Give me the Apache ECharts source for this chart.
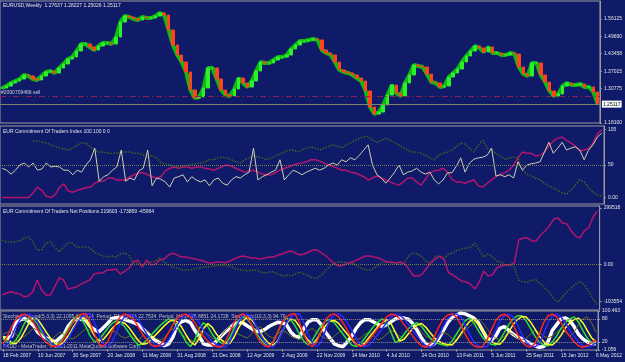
<!DOCTYPE html>
<html>
<head>
<meta charset="utf-8">
<title>EURUSD Weekly</title>
<script src="https://cdn.jsdelivr.net/npm/echarts@6.0.0/dist/echarts.min.js"></script>
<style>
  html, body { margin: 0; padding: 0; background: #0f1b69; }
  #chart { width: 625px; height: 362px; }
</style>
</head>
<body>
<div id="chart"></div>
<script>
// time axis labels, one every 8 bi-weekly bars
const dateLabels = ['18 Feb 2007', '10 Jun 2007', '30 Sep 2007', '20 Jan 2008', '11 May 2008', '31 Aug 2008',
  '21 Dec 2008', '12 Apr 2009', '2 Aug 2009', '22 Nov 2009', '14 Mar 2010', '4 Jul 2010',
  '24 Oct 2010', '13 Feb 2011', '5 Jun 2011', '25 Sep 2011', '15 Jan 2012', '6 May 2012']

// EURUSD closes (bi-weekly)
const closes = [1.3090, 1.3163, 1.3273, 1.3346, 1.3419, 1.3565, 1.3529, 1.3419, 1.3382, 1.3529,
  1.3675, 1.3711, 1.3638, 1.3821, 1.3967, 1.4150, 1.4223, 1.4443, 1.4699, 1.4699,
  1.4589, 1.4479, 1.4625, 1.4735, 1.4735, 1.4699, 1.4954, 1.5503, 1.5722, 1.5686,
  1.5613, 1.5576, 1.5686, 1.5649, 1.5649, 1.5722, 1.5832, 1.5759, 1.5210, 1.4662,
  1.4296, 1.4040, 1.3675, 1.3017, 1.2724, 1.2761, 1.3090, 1.3821, 1.3821, 1.3419,
  1.3017, 1.2834, 1.2797, 1.3053, 1.3455, 1.3273, 1.3126, 1.3346, 1.3711, 1.4040,
  1.4004, 1.4004, 1.4114, 1.4223, 1.4223, 1.4296, 1.4516, 1.4662, 1.4808, 1.4808,
  1.4845, 1.4881, 1.4845, 1.4479, 1.4369, 1.4296, 1.4040, 1.3748, 1.3675, 1.3638,
  1.3565, 1.3455, 1.3346, 1.2980, 1.2395, 1.2139, 1.2212, 1.2468, 1.2834, 1.3200,
  1.2907, 1.2797, 1.3273, 1.3565, 1.3931, 1.3894, 1.3858, 1.3602, 1.3309, 1.3273,
  1.3126, 1.3163, 1.3492, 1.3638, 1.3785, 1.4040, 1.4260, 1.4443, 1.4625, 1.4552,
  1.4406, 1.4589, 1.4369, 1.4369, 1.4296, 1.4296, 1.4369, 1.4333, 1.3858, 1.3602,
  1.3529, 1.4004, 1.4004, 1.3565, 1.3309, 1.2980, 1.2797, 1.2871, 1.3163, 1.3273,
  1.3200, 1.3200, 1.3236, 1.3126, 1.3126, 1.2944, 1.2512]

const lastPrice = 1.25117
const sellLevel = 1.2834
const priceTicks = [1.181, 1.30775, 1.37015, 1.43458, 1.4969, 1.56125]

// COT index window
const cotIndex = [45, 42, 36, 42, 50, 53, 47, 53, 42, 44,
  53, 47, 48, 47, 42, 42, 35, 42, 39, 50,
  58, 76, 25, 32, 35, 42, 47, 73, 25, 30,
  27, 41, 45, 73, 18, 30, 28, 24, 16, 30,
  32, 35, 24, 32, 27, 24, 27, 18, 27, 30,
  22, 19, 27, 32, 30, 35, 39, 76, 27, 32,
  35, 39, 42, 58, 27, 35, 42, 39, 35, 39,
  42, 45, 42, 45, 50, 53, 50, 58, 55, 61,
  58, 65, 73, 81, 50, 35, 30, 22, 30, 39,
  50, 35, 39, 41, 45, 39, 36, 39, 27, 21,
  27, 38, 38, 48, 61, 39, 53, 59, 61, 62,
  65, 76, 33, 35, 32, 35, 30, 55, 42, 50,
  52, 53, 55, 70, 85, 68, 76, 85, 73, 76,
  78, 73, 58, 73, 81, 93, 99]
const cotMagenta = [0, 0, 0, 0, 0, 0, 0, 7, 16, 11,
  2, 0, 4, 16, 21, 10, 8, 11, 13, 15,
  16, 22, 25, 25, 30, 30, 27, 27, 27, 32,
  35, 38, 38, 35, 32, 30, 32, 41, 45, 47,
  45, 47, 47, 45, 47, 47, 45, 44, 42, 45,
  48, 50, 48, 45, 42, 39, 41, 42, 39, 36,
  35, 35, 38, 42, 45, 47, 50, 52, 53, 55,
  58, 58, 56, 53, 50, 48, 45, 42, 42, 39,
  38, 35, 32, 27, 30, 33, 30, 27, 24, 21,
  19, 24, 30, 30, 24, 19, 28, 38, 41, 42,
  45, 39, 28, 24, 24, 22, 25, 27, 18, 16,
  22, 27, 32, 36, 38, 42, 50, 61, 70, 68,
  68, 64, 65, 70, 79, 87, 91, 93, 88, 84,
  79, 72, 73, 75, 84, 98, 104]
const cotGreen = [null, null, null, null, null, null, null, 87, 87, 85,
  84, 81, 78, 76, 75, 73, 76, 81, 84, 84,
  78, 73, 70, 70, 68, 68, 68, 70, 70, 70,
  68, 68, 65, 61, 65, 61, 53, 52, 50, 48,
  47, 48, 50, 50, 52, 53, 55, 58, 58, 61,
  62, 61, 58, 55, 53, 58, 61, 65, 62, 61,
  58, 61, 64, 67, 70, 73, 73, 70, 73, 76,
  78, 76, 73, 76, 79, 81, 79, 76, 81, 84,
  88, 91, 93, 94, 88, 85, 88, 91, 88, 84,
  81, 76, 73, 70, 70, 68, 65, 61, 58, 65,
  68, 70, 73, 78, 84, 82, 76, 70, 81, 88,
  76, 73, 68, 64, 59, 61, 62, 61, 42, 36,
  33, 30, 27, 22, 18, 15, 11, 7, 5, 11,
  19, 27, 24, 15, 8, 4, 2]

// COT net positions window
const netMagenta = [-161000, -150000, -143000, -150000, -155000, -170000, -166000, -143000, -81000, -134000,
  -161000, -161000, -118000, -71000, -81000, -129000, -124000, -118000, -103000, -92000,
  -81000, -50000, -44000, -44000, -28000, -28000, -23000, -50000, -34000, -18000,
  14000, 24000, -13000, 24000, -2000, 3000, 24000, 30000, 51000, 61000,
  51000, 40000, 40000, 35000, 30000, 24000, 19000, 9000, 9000, 14000,
  14000, 9000, 19000, 30000, 40000, 46000, 40000, 35000, 35000, 30000,
  35000, 40000, 40000, 51000, 56000, 67000, 72000, 61000, 51000, 56000,
  67000, 77000, 77000, 61000, 46000, 24000, 3000, -7000, -2000, 9000,
  14000, 24000, 35000, 46000, 46000, 40000, 35000, 24000, 14000, 14000,
  9000, 14000, 3000, -28000, -60000, -60000, -50000, -18000, 14000, 30000,
  46000, 24000, -44000, -55000, -71000, -87000, -92000, -103000, -129000, -92000,
  -34000, -60000, -55000, -18000, -7000, -2000, -2000, 9000, 130000, 141000,
  141000, 125000, 125000, 157000, 178000, 204000, 241000, 246000, 220000, 215000,
  178000, 151000, 141000, 178000, 194000, 252000, 283000]
const netGreen = [130000, 120000, 120000, 120000, 125000, 141000, 146000, 120000, 77000, 77000,
  114000, 120000, 93000, 67000, 93000, 114000, 114000, 93000, 93000, 93000,
  88000, 67000, 56000, 46000, 40000, 46000, 40000, 56000, 61000, 46000,
  9000, 9000, -2000, 9000, 14000, 19000, 35000, 14000, -2000, -13000,
  -18000, -28000, -28000, -28000, -23000, -18000, -13000, -13000, -7000, -7000,
  -2000, -2000, -7000, -18000, -28000, -28000, -34000, -28000, -28000, -39000,
  -44000, -39000, -39000, -50000, -60000, -55000, -60000, -50000, -39000, -50000,
  -60000, -71000, -71000, -55000, -28000, -7000, 9000, 14000, 14000, 9000,
  9000, -7000, -18000, -28000, -28000, -18000, -2000, 14000, 14000, 9000,
  3000, 3000, 14000, 51000, 61000, 56000, 40000, 14000, 3000, 46000,
  40000, 35000, 56000, 61000, 77000, 83000, 88000, 93000, 114000, 77000,
  40000, 56000, 40000, 19000, 14000, -2000, -2000, -13000, -81000, -92000,
  -92000, -81000, -81000, -103000, -124000, -145000, -182000, -198000, -171000, -145000,
  -124000, -103000, -87000, -108000, -140000, -182000, -214000]

// stochastic window
const stochWhite = [30, 30, 35, 70, 78, 81, 72, 63, 45, 36,
  30, 25, 20, 30, 40, 62, 75, 81, 79, 76,
  60, 52, 46, 57, 68, 81, 83, 84, 78, 74,
  70, 65, 55, 44, 32, 24, 18, 10, 15, 33,
  65, 73, 76, 70, 50, 35, 15, 12, 12, 22,
  35, 46, 56, 66, 71, 70, 62, 55, 48, 47,
  52, 60, 66, 71, 70, 65, 46, 35, 32, 55,
  72, 78, 78, 65, 45, 30, 15, 10, 8, 20,
  35, 55, 70, 78, 78, 72, 66, 60, 65, 72,
  80, 82, 82, 79, 68, 50, 30, 14, 10, 16,
  30, 50, 70, 84, 90, 95, 93, 88, 82, 70,
  50, 30, 25, 35, 55, 60, 50, 40, 33, 28,
  22, 15, 10, 6, 8, 20, 50, 65, 80, 82,
  76, 60, 40, 28, 20, 16, 15]
const stochBlue = [8, 15, 35, 60, 80, 90, 92, 85, 70, 50,
  30, 18, 10, 8, 15, 30, 50, 70, 85, 92,
  93, 70, 40, 15, 8, 20, 45, 70, 88, 92,
  88, 78, 60, 40, 25, 12, 8, 12, 25, 45,
  65, 82, 90, 92, 85, 70, 50, 35, 22, 12,
  8, 6, 20, 45, 70, 88, 93, 85, 65, 40,
  20, 10, 7, 20, 45, 70, 85, 92, 93, 70,
  40, 15, 8, 20, 50, 78, 90, 93, 85, 70,
  50, 30, 15, 8, 12, 25, 40, 55, 70, 85,
  92, 90, 80, 65, 50, 35, 20, 10, 6, 15,
  35, 60, 80, 90, 93, 85, 65, 40, 20, 10,
  6, 8, 25, 50, 75, 88, 92, 85, 65, 40,
  20, 10, 7, 15, 40, 70, 88, 92, 85, 70,
  50, 35, 20, 10, 6, 10, 18]
const stochRed = [15, 35, 60, 80, 90, 92, 85, 70, 50, 30,
  18, 10, 8, 15, 30, 50, 70, 85, 92, 93,
  70, 40, 15, 8, 20, 45, 70, 88, 92, 88,
  78, 60, 40, 25, 12, 8, 12, 25, 45, 65,
  82, 90, 92, 85, 70, 50, 35, 22, 12, 8,
  6, 20, 45, 70, 88, 93, 85, 65, 40, 20,
  10, 7, 20, 45, 70, 85, 92, 93, 70, 40,
  15, 8, 20, 50, 78, 90, 93, 85, 70, 50,
  30, 15, 8, 12, 25, 40, 55, 70, 85, 92,
  90, 80, 65, 50, 35, 20, 10, 6, 15, 35,
  60, 80, 90, 93, 85, 65, 40, 20, 10, 6,
  8, 25, 50, 75, 88, 92, 85, 65, 40, 20,
  10, 7, 15, 40, 70, 88, 92, 85, 70, 50,
  35, 20, 10, 6, 10, 18, 25]
const stochGreen = [30, 20, 15, 25, 45, 70, 85, 80, 65, 45,
  28, 15, 10, 18, 35, 55, 75, 88, 80, 60,
  35, 20, 25, 40, 55, 68, 75, 70, 58, 42,
  25, 12, 15, 25, 38, 50, 62, 72, 80, 75,
  60, 40, 20, 8, 25, 55, 70, 60, 40, 25,
  18, 15, 30, 55, 75, 85, 80, 65, 45, 28,
  15, 10, 20, 45, 70, 82, 78, 62, 40, 22,
  12, 25, 45, 62, 75, 78, 70, 55, 40, 25,
  12, 8, 15, 30, 45, 60, 72, 80, 70, 45,
  18, 25, 40, 55, 65, 70, 60, 45, 30, 20,
  15, 12, 10, 22, 40, 58, 75, 82, 70, 50,
  32, 20, 14, 12, 25, 45, 65, 80, 88, 88,
  75, 55, 35, 20, 12, 10, 20, 35, 55, 70,
  80, 85, 72, 50, 30, 18, 15]
const stochYellow = [35, 28, 18, 16, 28, 48, 70, 84, 78, 62,
  44, 28, 16, 12, 20, 36, 56, 74, 85, 78,
  58, 36, 22, 26, 40, 55, 66, 73, 68, 56,
  40, 24, 14, 16, 26, 38, 50, 62, 72, 78,
  72, 58, 38, 20, 12, 28, 55, 68, 58, 40,
  26, 18, 16, 32, 56, 74, 83, 78, 63, 44,
  28, 16, 12, 22, 46, 68, 80, 76, 60, 40,
  24, 15, 27, 46, 62, 74, 76, 68, 54, 40,
  26, 14, 10, 17, 32, 46, 60, 70, 78, 68,
  45, 22, 27, 41, 55, 64, 68, 58, 44, 30,
  21, 16, 13, 12, 24, 41, 58, 73, 80, 68,
  50, 33, 21, 15, 14, 27, 46, 65, 78, 86,
  85, 72, 54, 35, 21, 13, 12, 22, 37, 56,
  70, 78, 82, 70, 50, 31, 20]
const stochOlive = [40, 45, 50, 40, 30, 35, 45, 55, 50, 40,
  30, 25, 35, 45, 40, 30, 28, 35, 45, 55,
  50, 35, 25, 30, 40, 50, 45, 35, 30, 35,
  30, 25, 35, 50, 40, 30, 25, 30, 45, 55,
  50, 40, 30, 25, 20, 35, 45, 40, 30, 25,
  35, 50, 60, 50, 40, 35, 30, 40, 55, 60,
  45, 35, 30, 40, 50, 45, 35, 30, 25, 35,
  50, 55, 45, 35, 30, 25, 35, 45, 50, 40,
  30, 25, 30, 40, 45, 35, 25, 30, 40, 50,
  45, 35, 30, 40, 55, 60, 45, 35, 30, 25,
  35, 45, 40, 30, 25, 35, 50, 60, 70, 80,
  70, 55, 40, 30, 25, 35, 45, 40, 30, 25,
  30, 40, 50, 45, 35, 30, 35, 45, 55, 45,
  35, 45, 65, 80, 85, 70, 45]

const FONT = 'Liberation Sans'
const FS = 5
const TEXT = '#e4e4e4'
const cats = closes.map((_, i) => i)
// heiken-ashi style bodies: open at previous close
const candles = closes.map((c, i) => {
  const o = i > 0 ? closes[i - 1] : c
  return [o, c, Math.min(o, c), Math.max(o, c)]
})

const gridBox = { left: 0, right: 21, show: true, borderColor: '#999999', borderWidth: 1 }
const grids = [
  Object.assign({ top: 1, height: 122 }, gridBox),
  Object.assign({ top: 126, height: 78 }, gridBox),
  Object.assign({ top: 206, height: 104 }, gridBox),
  Object.assign({ top: 311, height: 39 }, gridBox)
]

function timeAxis(k) {
  const bottom = k === 3
  return {
    type: 'category', gridIndex: k, data: cats, boundaryGap: true,
    axisLine: { show: false },
    axisTick: { show: bottom, interval: 7, alignWithLabel: true, length: 2, lineStyle: { color: '#b0b0b0' } },
    axisLabel: {
      show: bottom, interval: 7, align: 'left', margin: 3,
      color: TEXT, fontSize: FS, fontFamily: FONT,
      formatter: (v, i) => dateLabels[i / 8] || ''
    }
  }
}

function rightAxis(k, min, max, ticks, fmt) {
  return {
    type: 'value', gridIndex: k, position: 'right', min: min, max: max,
    axisLine: { show: true, lineStyle: { color: '#9a9a9a' } },
    axisTick: { show: true, length: 2, customValues: ticks, lineStyle: { color: '#9a9a9a' } },
    axisLabel: { customValues: ticks, formatter: fmt, color: TEXT, fontSize: FS, fontFamily: FONT, margin: 4 },
    splitLine: { show: false }
  }
}

function level(v, color) {
  return { yAxis: v, lineStyle: { color: color, type: 'dotted', width: 1 }, label: { show: false } }
}

function line(name, k, data, color, width, type, z) {
  return {
    name: name, type: 'line', xAxisIndex: k, yAxisIndex: k, data: data,
    symbol: 'none', connectNulls: false, z: z || 2,
    lineStyle: { color: color, width: width, type: type || 'solid' }
  }
}

const chart = echarts.init(document.getElementById('chart'), null, { renderer: 'canvas' })

const option = {
  animation: false,
  backgroundColor: '#0f1b69',
  grid: grids,
  xAxis: [timeAxis(0), timeAxis(1), timeAxis(2), timeAxis(3)],
  yAxis: [
    rightAxis(0, 1.181, 1.6271, priceTicks, v => v.toFixed(5)),
    rightAxis(1, -10, 110, [0, 50, 105], v => (v === 0 ? '0.00' : String(v))),
    rightAxis(2, -240000, 310000, [-193554, 0, 299518], v => (v === 0 ? '0.00' : String(v))),
    rightAxis(3, -1.056, 100.463, [-1.056, 20, 80, 100.463], v => String(v))
  ],
  series: [
    line('band', 0, closes, '#12b812', 4, 'solid', 1),
    {
      name: 'EURUSD', type: 'candlestick', xAxisIndex: 0, yAxisIndex: 0, data: candles,
      barWidth: 3, z: 3,
      itemStyle: { color: '#2cf02c', color0: '#ff431c', borderColor: '#2cf02c', borderColor0: '#ff431c', borderWidth: 1 },
      markLine: {
        symbol: ['none', 'none'], silent: true, animation: false,
        data: [
          {
            yAxis: lastPrice, lineStyle: { color: '#85856f', type: 'solid', width: 1 },
            label: { show: true, position: 'end', formatter: lastPrice.toFixed(5), backgroundColor: '#ffffff',
              color: '#000000', fontSize: FS, fontFamily: FONT, padding: [1, 1], distance: 2 }
          },
          {
            yAxis: sellLevel, lineStyle: { color: '#8c1f55', type: [6, 3, 1, 3], width: 1 },
            label: { show: true, position: 'insideStartTop', formatter: '#2090709466 sell',
              color: '#d0d0d0', fontSize: FS, fontFamily: FONT, distance: 1 }
          }
        ]
      }
    },
    Object.assign(line('index', 1, cotIndex, '#cfcfac', 1, 'solid', 3), {
      markLine: { symbol: ['none', 'none'], silent: true, data: [level(50, '#7d7d5e')] }
    }),
    line('index2', 1, cotMagenta, '#b3146d', 1.5, 'solid', 2),
    line('index3', 1, cotGreen, '#40681c', 1.5, 'dotted', 2),
    Object.assign(line('net', 2, netMagenta, '#b3146d', 1.5, 'solid', 3), {
      markLine: { symbol: ['none', 'none'], silent: true, data: [level(0, '#7d7d3e')] }
    }),
    line('net2', 2, netGreen, '#40681c', 1.5, 'dotted', 2),
    Object.assign(line('st1', 3, stochWhite, '#ffffff', 3.5, 'solid', 2), {
      markLine: { symbol: ['none', 'none'], silent: true, data: [level(20, '#909090'), level(80, '#909090')] }
    }),
    line('st6', 3, stochOlive, '#707014', 1, 'solid', 3),
    line('st4', 3, stochGreen, '#2ee02e', 1.5, 'solid', 3),
    line('st5', 3, stochYellow, '#ffff1e', 1.5, 'solid', 3),
    line('st2', 3, stochBlue, '#2a2aff', 1.5, 'solid', 3),
    line('st3', 3, stochRed, '#ff2424', 1.5, 'solid', 3)
  ],
  graphic: [
    { type: 'text', left: 3, top: 3, z: 100, style: { text: 'EURUSD,Weekly  1.27637 1.28227 1.25026 1.25117', fill: TEXT, font: FS + 'px ' + FONT } },
    { type: 'text', left: 3, top: 129, z: 100, style: { text: 'EUR Commitment Of Traders Index 100 100 0 0', fill: TEXT, font: FS + 'px ' + FONT } },
    { type: 'text', left: 3, top: 209, z: 100, style: { text: 'EUR Commitment Of Traders Net Positions 219603 -173869 -45964', fill: TEXT, font: FS + 'px ' + FONT } },
    { type: 'text', left: 3, top: 314, z: 0, style: { text: 'Stochastic Trend(5,3,3) 22.1095 36.1024  Period_D1 4.3324 22.7534  Period_H4 14.25 8851 24.1728  Stochastic(10,3,3) 94.79', fill: '#c0c0c0', font: FS + 'px ' + FONT } },
    { type: 'text', left: 3, top: 344, z: 0, style: { text: 'FXDD - MetaTrader, \u00a9 2001-2011 MetaQuotes Software Corp.', fill: '#c0c0c0', font: FS + 'px ' + FONT } }
  ]
}

chart.setOption(option)
</script>
</body>
</html>
